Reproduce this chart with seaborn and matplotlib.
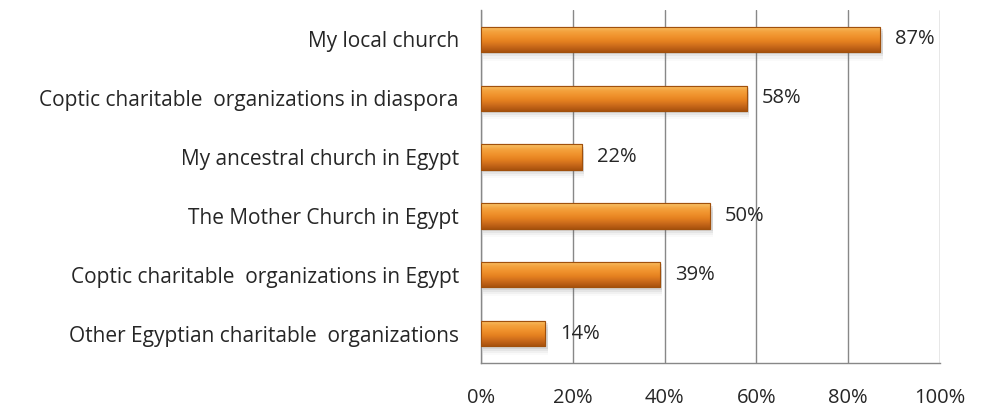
import numpy as np
import pandas as pd
import matplotlib.pyplot as plt
import seaborn as sns
from matplotlib.colors import LinearSegmentedColormap

# Chart data
categories = [
    'My local church',
    'Coptic charitable  organizations in diaspora',
    'My ancestral church in Egypt',
    'The Mother Church in Egypt',
    'Coptic charitable  organizations in Egypt',
    'Other Egyptian charitable  organizations',
]
values = [87, 58, 22, 50, 39, 14]
x_ticks = [0, 20, 40, 60, 80, 100]
x_tick_labels = ['0%', '20%', '40%', '60%', '80%', '100%']

df = pd.DataFrame({'category': categories, 'value': values})

sns.set_style('white')
plt.rcParams['font.family'] = ['Open Sans', 'DejaVu Sans']

fig = plt.figure(figsize=(9.85, 4.08), dpi=100)
ax = fig.add_axes([0.4883, 0.1103, 0.4660, 0.8652])

sns.barplot(data=df, x='value', y='category', orient='h', width=0.43,
            color='#f0902a', edgecolor='#a0500c', linewidth=0.8, ax=ax, zorder=3)

# Gradient fill + soft shadow on each bar (top light -> bottom dark)
cmap = LinearSegmentedColormap.from_list(
    'bar', ['#f8c46a', '#f4a23e', '#f0922c', '#e4801f', '#c8681a', '#a8520e'])
grad = np.linspace(0, 1, 64).reshape(-1, 1)
for p in list(ax.patches):
    x0, y0 = p.get_x(), p.get_y()
    w, h = p.get_width(), p.get_height()
    for k, a in enumerate([0.12, 0.08, 0.05, 0.03]):
        off = 0.04 + k * 0.035
        ax.add_patch(plt.Rectangle((x0 + 0.5, y0 + off), w, h, color='#606060',
                                   alpha=a, lw=0, zorder=2))
    im = ax.imshow(grad, cmap=cmap, aspect='auto', extent=(x0, x0 + w, y0 + h, y0),
                   zorder=3.5, interpolation='bicubic')
    im.set_clip_path(p)
    ax.add_patch(plt.Rectangle((x0, y0), w, h, fill=False, ec='#a0500c', lw=0.8, zorder=4))

for i, v in enumerate(values):
    ax.text(v + 3.2, i, f'{v}%', va='center', ha='left', fontsize=14.5,
            color='#262626', zorder=5)

ax.set_xlim(0, 100)
ax.set_ylim(len(categories) - 0.5, -0.5)
ax.set_xticks(x_ticks)
ax.set_xticklabels(x_tick_labels, fontsize=14.5, color='#262626')
ax.tick_params(axis='x', length=6, width=1, color='#888888', direction='out', pad=12)
ax.tick_params(axis='y', length=0, labelsize=15, labelcolor='#262626', pad=16)
ax.set_yticks(np.arange(-0.5, len(categories)), minor=True)
ax.tick_params(axis='y', which='minor', length=6, width=1, color='#888888')
ax.set_xlabel('')
ax.set_ylabel('')
ax.xaxis.grid(True, color='#888888', linewidth=1, zorder=0)
ax.set_axisbelow(True)
for s in ['top', 'right']:
    ax.spines[s].set_visible(False)
for s in ['left', 'bottom']:
    ax.spines[s].set_color('#888888')
    ax.spines[s].set_linewidth(1)

fig.savefig('out.png', dpi=100, facecolor='white')
